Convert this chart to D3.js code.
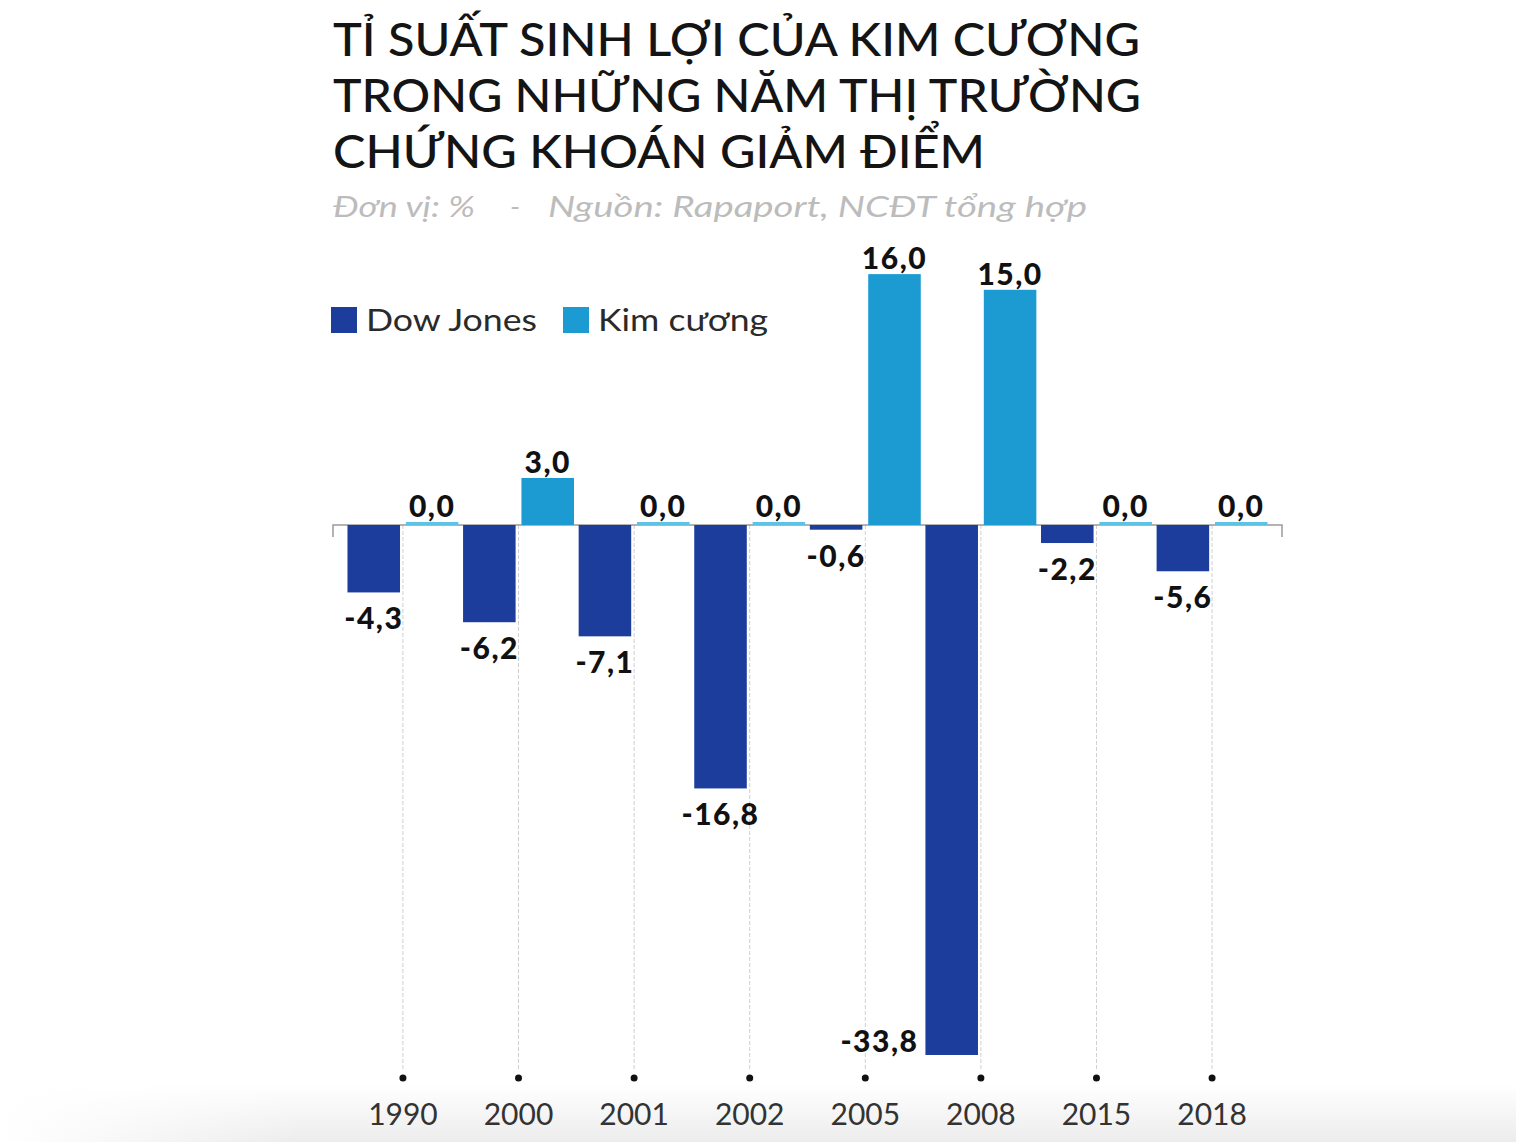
<!DOCTYPE html>
<html>
<head>
<meta charset="utf-8">
<script src="https://cdn.jsdelivr.net/npm/d3@7"></script>
<style>
  html, body { margin: 0; padding: 0; background: #fff; }
  svg { display: block; }
</style>
</head>
<body>
<svg id="chart" width="1516" height="1142"></svg>
<script>
// ---------- data ----------
const years = ["1990", "2000", "2001", "2002", "2005", "2008", "2015", "2018"];
// printed Dow Jones labels (%)
const dowJones = [-4.3, -6.2, -7.1, -16.8, -0.6, -33.8, -2.2, -5.6];
// Dow Jones bar lengths as actually drawn in the picture (%)
const dowJonesDrawn = [-4.3, -6.2, -7.1, -16.8, -0.3, -33.8, -1.15, -2.95];
// Kim cương (diamonds) (%)
const kimCuong = [0.0, 3.0, 0.0, 0.0, 16.0, 15.0, 0.0, 0.0];
const seriesNames = ["Dow Jones", "Kim cương"];
const titleLines = [
  "TỈ SUẤT SINH LỢI CỦA KIM CƯƠNG",
  "TRONG NHỮNG NĂM THỊ TRƯỜNG",
  "CHỨNG KHOÁN GIẢM ĐIỂM"
];

// ---------- setup ----------
const colors = { dow: "#1d3d9c", kim: "#1b9bd2" };
const fmt = v => v.toFixed(1).replace(".", ",");
const svg = d3.select("#chart");

// faint bottom shade
const defs = svg.append("defs");
const grad = defs.append("linearGradient").attr("id", "shade").attr("x1", 0).attr("y1", 0).attr("x2", 0).attr("y2", 1);
grad.append("stop").attr("offset", "0%").attr("stop-color", "#ffffff");
grad.append("stop").attr("offset", "100%").attr("stop-color", "#ececec");
const gradH = defs.append("linearGradient").attr("id", "fadeL").attr("x1", 0).attr("y1", 0).attr("x2", 1).attr("y2", 0);
gradH.append("stop").attr("offset", "0%").attr("stop-color", "#fff").attr("stop-opacity", 1);
gradH.append("stop").attr("offset", "20%").attr("stop-color", "#fff").attr("stop-opacity", 0);
svg.append("rect").attr("x", 0).attr("y", 1085).attr("width", 1516).attr("height", 57).attr("fill", "url(#shade)");
svg.append("rect").attr("x", 0).attr("y", 1085).attr("width", 1516).attr("height", 57).attr("fill", "url(#fadeL)");

// ---------- title ----------
const titleW = [807, 808, 652];
const titleY = [56, 112, 168];
svg.selectAll("text.title").data(titleLines).join("text")
  .attr("class", "title")
  .attr("x", 333).attr("y", (d, i) => titleY[i])
  .attr("textLength", (d, i) => titleW[i])
  .attr("lengthAdjust", "spacingAndGlyphs")
  .style("font-family", "Lato, 'Open Sans', sans-serif")
  .style("font-weight", 500)
  .style("font-size", "47px")
  .style("fill", "#141414")
  .text(d => d);

// subtitle
const subStyle = s => s.style("font-family", "Lato, 'Open Sans', sans-serif")
  .style("font-style", "italic").style("font-size", "29px").style("fill", "#bcbcbc");
svg.append("text").attr("x", 333).attr("y", 217).attr("textLength", 142).attr("lengthAdjust", "spacingAndGlyphs")
  .call(subStyle).text("Đơn vị: %");
svg.append("text").attr("x", 510).attr("y", 217).call(subStyle).text("-");
svg.append("text").attr("x", 548).attr("y", 217).attr("textLength", 539).attr("lengthAdjust", "spacingAndGlyphs")
  .call(subStyle).text("Nguồn: Rapaport, NCĐT tổng hợp");

// ---------- legend ----------
const legendX = [331, 563];
const legendColors = [colors.dow, colors.kim];
const legendTextW = [171, 170];
const lg = svg.selectAll("g.legend").data(seriesNames).join("g")
  .attr("class", "legend")
  .attr("transform", (d, i) => `translate(${legendX[i]},307)`);
lg.append("rect").attr("width", 26).attr("height", 26).attr("fill", (d, i) => legendColors[i]);
lg.append("text").attr("x", 35).attr("y", 24)
  .attr("textLength", (d, i) => legendTextW[i]).attr("lengthAdjust", "spacingAndGlyphs")
  .style("font-family", "Lato, 'Open Sans', sans-serif")
  .style("font-size", "31px").style("fill", "#2a2a2a")
  .text(d => d);

// ---------- scales ----------
const x0 = d3.scaleBand().domain(years).range([333, 1282]).paddingInner(0).paddingOuter(0.105);
const x1 = d3.scaleBand().domain(["dow", "kim"]).range([0, x0.bandwidth()]).paddingInner(0.1).paddingOuter(0.04);
const y = d3.scaleLinear().domain([-35, 20]).range([525 + 35 * 15.68, 525 - 20 * 15.68]);
const y0 = y(0);
const gridBottom = 1070;

const rows = years.map((yr, i) => ({
  year: yr, dow: dowJones[i], dowDrawn: dowJonesDrawn[i], kim: kimCuong[i]
}));

// ---------- gridlines ----------
svg.selectAll("line.grid").data(years).join("line")
  .attr("class", "grid")
  .attr("x1", d => x0(d) + x0.bandwidth() / 2).attr("x2", d => x0(d) + x0.bandwidth() / 2)
  .attr("y1", y0).attr("y2", gridBottom)
  .attr("stroke", "#cfcfcf").attr("stroke-width", 1).attr("stroke-dasharray", "4,2");

// ---------- zero axis ----------
const [rx0, rx1] = x0.range();
svg.append("path")
  .attr("d", `M${rx0},${y0 + 12}V${y0}H${rx1}V${y0 + 12}`)
  .attr("fill", "none").attr("stroke", "#9a9a9a").attr("stroke-width", 1.5);

// ---------- bars ----------
const groups = svg.selectAll("g.group").data(rows).join("g")
  .attr("class", "group")
  .attr("transform", d => `translate(${x0(d.year)},0)`);

groups.append("rect")
  .attr("x", x1("dow")).attr("width", x1.bandwidth())
  .attr("y", d => Math.min(y(d.dowDrawn), y0))
  .attr("height", d => Math.abs(y(d.dowDrawn) - y0))
  .attr("fill", colors.dow);

groups.append("rect")
  .attr("x", x1("kim")).attr("width", x1.bandwidth())
  .attr("y", d => d.kim === 0 ? y0 - 3 : Math.min(y(d.kim), y0))
  .attr("height", d => d.kim === 0 ? 3 : Math.abs(y(d.kim) - y0))
  .attr("fill", d => d.kim === 0 ? "#5cc3e6" : colors.kim);

// ---------- value labels ----------
const labelStyle = s => s.style("font-family", "Lato, 'Open Sans', sans-serif")
  .style("font-weight", 900).style("font-size", "30px").style("letter-spacing", "1.5px").style("fill", "#111");

// Kim cương labels (above)
groups.append("text")
  .attr("x", x1("kim") + x1.bandwidth() / 2)
  .attr("y", d => (d.kim === 0 ? y0 - 3 : y(d.kim)) - 5)
  .attr("text-anchor", "middle")
  .call(labelStyle)
  .text(d => fmt(d.kim));

// Dow Jones labels (below bar end, or left of bar end if too long)
const off = 37;
groups.append("text")
  .attr("x", d => y(d.dowDrawn) + off > gridBottom ? x1("dow") - 7 : x1("dow") + x1.bandwidth() / 2)
  .attr("y", d => y(d.dowDrawn) + off > gridBottom ? y(d.dowDrawn) - 3 : y(d.dowDrawn) + off)
  .attr("text-anchor", d => y(d.dowDrawn) + off > gridBottom ? "end" : "middle")
  .call(labelStyle)
  .text(d => fmt(d.dow));

// ---------- x axis dots & year labels ----------
svg.selectAll("circle.dot").data(years).join("circle")
  .attr("class", "dot")
  .attr("cx", d => x0(d) + x0.bandwidth() / 2).attr("cy", 1078).attr("r", 3.5)
  .attr("fill", "#111");

svg.selectAll("text.year").data(years).join("text")
  .attr("class", "year")
  .attr("x", d => x0(d) + x0.bandwidth() / 2).attr("y", 1125)
  .attr("text-anchor", "middle")
  .style("font-family", "Lato, 'Open Sans', sans-serif")
  .style("font-size", "30px").style("fill", "#333")
  .text(d => d);
</script>
</body>
</html>
